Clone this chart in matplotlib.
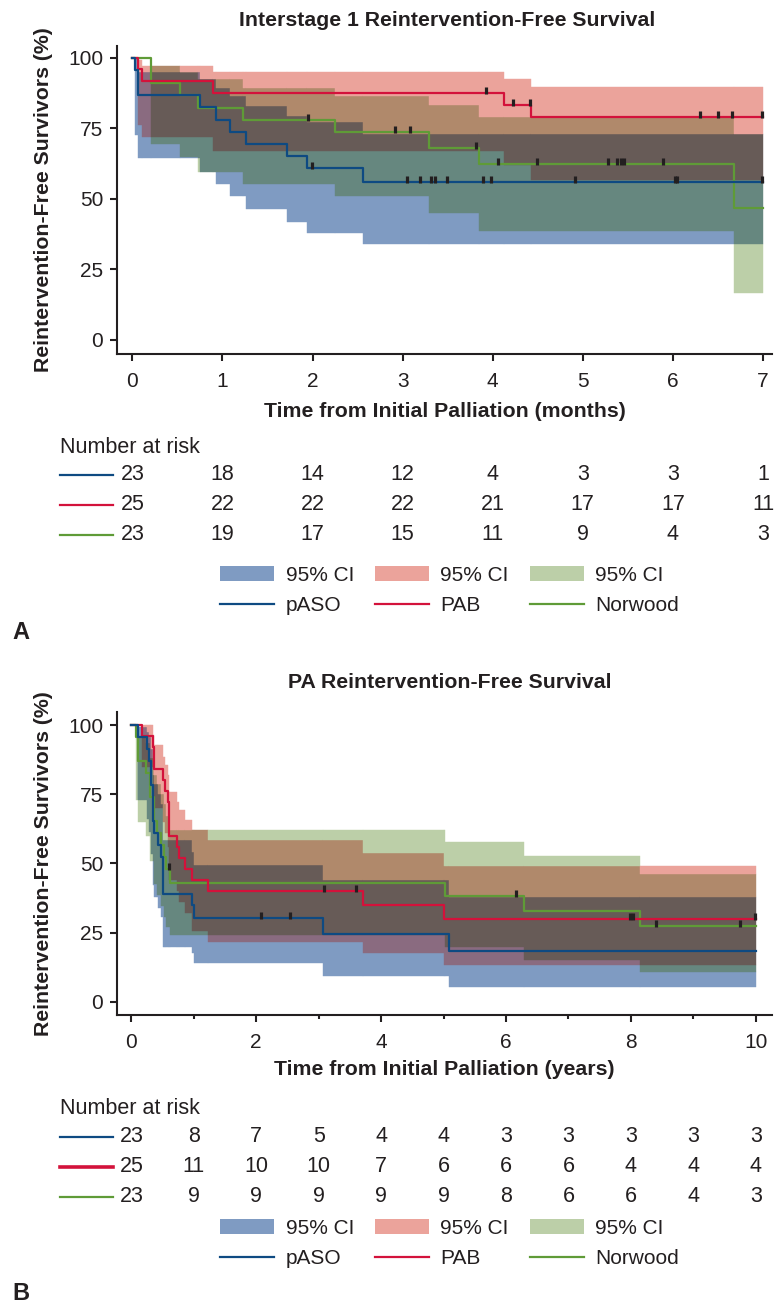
import numpy as np
import matplotlib
matplotlib.use('Agg')
import matplotlib.pyplot as plt
from matplotlib.patches import Rectangle, Patch
from matplotlib.lines import Line2D
from matplotlib.transforms import blended_transform_factory

plt.rcParams['font.family'] = ['Liberation Sans', 'DejaVu Sans']

# ---------------- panel A: interstage 1 (months) ----------------
paso1_t = [0, 0.03, 0.066, 0.756, 0.925, 1.088, 1.265, 1.72, 1.94, 2.56]
paso1_s = [100, 95.7, 86.8, 82.4, 78.0, 73.7, 69.3, 65.0, 60.7, 56.0]
pab1_t = [0, 0.066, 0.103, 0.896, 4.12, 4.43]
pab1_s = [100, 96.0, 91.8, 87.6, 83.1, 79.0]
nor1_t = [0, 0.203, 0.527, 0.73, 1.228, 2.253, 3.29, 3.85, 6.68]
nor1_s = [100, 91.0, 86.7, 82.3, 78.0, 73.7, 68.1, 62.4, 46.8]

paso1_cens = [1.99, 3.05, 3.19, 3.32, 3.36, 3.49, 3.89, 3.98, 4.91, 6.02, 6.05, 6.99]
pab1_cens = [3.93, 4.22, 4.41, 6.30, 6.50, 6.66, 6.99]
nor1_cens = [1.95, 2.92, 3.08, 3.82, 4.06, 4.49, 5.28, 5.38, 5.42, 5.46, 5.89]

paso1_ci_t = [0.03, 0.066, 0.756, 0.925, 1.088, 1.265, 1.72, 1.94, 2.56]
paso1_ci_lo = [72.6, 64.3, 59.6, 55.1, 50.8, 46.3, 41.8, 37.8, 33.9]
paso1_ci_hi = [99.5, 94.8, 92.3, 89.1, 86.5, 83.0, 79.3, 77.1, 73.0]
pab1_ci_t = [0.066, 0.103, 0.896, 4.12, 4.43]
pab1_ci_lo = [76.0, 71.8, 66.8, 62.0, 56.7]
pab1_ci_hi = [99.0, 96.9, 94.9, 92.4, 89.7]
nor1_ci_t = [0.203, 0.527, 0.73, 1.228, 2.253, 3.29, 3.85, 6.68]
nor1_ci_lo = [69.3, 64.9, 59.6, 55.1, 50.8, 44.9, 38.6, 16.5]
nor1_ci_hi = [96.9, 95.0, 92.3, 89.1, 86.5, 83.2, 78.8, 73.0]

risk1_paso = [23, 18, 14, 12, 4, 3, 3, 1]
risk1_pab = [25, 22, 22, 22, 21, 17, 17, 11]
risk1_nor = [23, 19, 17, 15, 11, 9, 4, 3]

# ---------------- panel B: PA reintervention (years) ----------------
paso2_t = [0, 0.10, 0.25, 0.28, 0.31, 0.34, 0.37, 0.43, 0.47, 0.50, 0.965, 1.0, 3.07, 5.09]
paso2_s = [100, 95.7, 91.3, 87.0, 78.3, 65.2, 60.9, 56.5, 52.2, 39.1, 34.8, 30.4, 24.4, 18.3]
pab2_t = [0, 0.175, 0.34, 0.36, 0.50, 0.54, 0.58, 0.61, 0.73, 0.76, 0.86, 0.965, 1.22, 3.71, 5.0]
pab2_s = [100, 96, 92, 84, 80, 76, 72, 60, 56, 52, 48, 44, 40, 35.0, 30.0]
nor2_t = [0, 0.07, 0.11, 0.24, 0.30, 0.36, 0.41, 0.47, 0.52, 0.55, 0.62, 5.03, 6.29, 8.14]
nor2_s = [100, 95.7, 87.0, 82.6, 73.9, 65.2, 60.9, 56.5, 52.2, 47.8, 43.0, 38.2, 32.8, 27.5]

paso2_cens = [2.08, 2.54]
pab2_cens = [3.09, 3.59, 7.98, 8.04, 9.98]
nor2_cens = [0.60, 6.16, 8.41, 9.75]

paso2_ci_t = [0.10, 0.25, 0.28, 0.31, 0.34, 0.37, 0.43, 0.47, 0.50, 0.965, 1.0, 3.07, 5.09]
paso2_ci_lo = [73.0, 66.0, 61.5, 53.5, 42.0, 38.0, 34.0, 30.5, 19.9, 17.7, 14.1, 9.3, 5.4]
paso2_ci_hi = [99.4, 97.5, 95.5, 91.5, 82.0, 78.5, 75.0, 71.5, 58.4, 54.0, 49.4, 44.0, 37.9]
pab2_ci_t = [0.175, 0.34, 0.36, 0.50, 0.54, 0.58, 0.61, 0.73, 0.76, 0.86, 0.965, 1.22, 3.71, 5.0]
pab2_ci_lo = [85.0, 78.0, 70.0, 65.0, 61.0, 56.0, 44.0, 40.0, 36.0, 32.0, 25.5, 21.7, 17.5, 13.3]
pab2_ci_hi = [100, 96.4, 92.8, 88.6, 85.5, 81.9, 75.9, 72.3, 69.3, 65.7, 62.0, 58.4, 53.9, 48.9]
nor2_ci_t = [0.07, 0.11, 0.24, 0.30, 0.36, 0.41, 0.47, 0.52, 0.55, 0.62, 5.03, 6.29, 8.14]
nor2_ci_lo = [73.0, 65.0, 60.0, 51.0, 42.5, 38.5, 34.5, 30.6, 27.0, 24.1, 19.9, 15.1, 10.8]
nor2_ci_hi = [99.0, 96.0, 93.5, 88.0, 82.0, 78.5, 75.0, 71.5, 67.0, 62.0, 57.8, 52.8, 46.3]

risk2_paso = [23, 8, 7, 5, 4, 4, 3, 3, 3, 3, 3]
risk2_pab = [25, 11, 10, 10, 7, 6, 6, 6, 4, 4, 4]
risk2_nor = [23, 9, 9, 9, 9, 9, 8, 6, 6, 4, 3]

# colours
PASO_C = '#0e4a82'
PAB_C = '#d3123b'
NOR_C = '#5f9b37'
INK = '#231f20'
# band colours, overlapping bands look multiplied in the original
BLEND = {
    ('b',): '#7f9bc2', ('r',): '#eba39b', ('g',): '#bccfa8',
    ('b', 'r'): '#8a6b80', ('b', 'g'): '#66877f', ('r', 'g'): '#b0896b',
    ('b', 'r', 'g'): '#675b57',
}
CENSOR = [(0, -0.15), (0, 1)]
LABEL_SIZE = 15.3


def step_value(t, v, x):
    i = np.searchsorted(t, x, side='right') - 1
    return np.asarray(v)[i]


def draw_bands(ax, bands, end):
    xs = sorted(set(np.concatenate([b[1] for b in bands])) | {end})
    for x0, x1 in zip(xs[:-1], xs[1:]):
        spans = {}
        for key, t, lo, hi in bands:
            if x0 >= t[0]:
                spans[key] = (step_value(t, lo, x0), step_value(t, hi, x0))
        cuts = sorted({y for s in spans.values() for y in s})
        for y0, y1 in zip(cuts[:-1], cuts[1:]):
            keys = tuple(k for k in 'brg' if k in spans
                         and spans[k][0] <= y0 and spans[k][1] >= y1)
            if keys:
                c = BLEND[keys]
                ax.add_patch(Rectangle((x0, y0), x1 - x0, y1 - y0, facecolor=c,
                                       edgecolor=c, lw=0.3, zorder=1))


def draw_curve(ax, t, s, cens, end, color, lw=1.6):
    ax.step(np.append(t, end), np.append(s, s[-1]), where='post',
            color=color, lw=lw, zorder=3)
    ax.plot(cens, step_value(t, s, cens), ls='none', marker=CENSOR,
            color=INK, ms=9, mew=2.3, zorder=4)


def style_axes(ax, xlim, ylim):
    ax.set_xlim(*xlim)
    ax.set_ylim(*ylim)
    for side in ['top', 'right']:
        ax.spines[side].set_visible(False)
    for side in ['left', 'bottom']:
        ax.spines[side].set_linewidth(1.5)
        ax.spines[side].set_color(INK)
    ax.set_yticks([0, 25, 50, 75, 100])
    ax.tick_params(which='major', length=5, width=1.5, color=INK,
                   labelsize=15, labelcolor=INK)
    ax.tick_params(axis='x', which='major', pad=8)
    ax.tick_params(axis='y', pad=5)
    ax.set_ylabel('Reintervention-Free Survivors (%)', fontsize=LABEL_SIZE,
                  fontweight='bold', color=INK)
    ax.yaxis.set_label_coords(-0.098, 0.5)


def risk_table(fig, ax, y_head, rows, xs):
    tr = blended_transform_factory(ax.transData, fig.transFigure)
    fig.text(60 / 774, 1 - y_head / 1306, 'Number at risk', fontsize=15.5,
             color=INK, ha='left', va='center')
    for y_px, vals, color, lw in rows:
        y = 1 - y_px / 1306
        fig.add_artist(Line2D([60 / 774, 113 / 774], [y, y], color=color, lw=lw,
                              transform=fig.transFigure))
        for x, v in zip(xs, vals):
            fig.text(x, y, str(v), transform=tr, fontsize=15.5, color=INK,
                     ha='center', va='center')


def legend(fig, y_px):
    handles = [Patch(facecolor=BLEND[('b',)]), Line2D([], [], color=PASO_C, lw=1.6),
               Patch(facecolor=BLEND[('r',)]), Line2D([], [], color=PAB_C, lw=1.6),
               Patch(facecolor=BLEND[('g',)]), Line2D([], [], color=NOR_C, lw=1.6)]
    labels = ['95% CI', 'pASO', '95% CI', 'PAB', '95% CI', 'Norwood']
    leg = fig.legend(handles, labels, ncol=3, loc='center left',
                     bbox_to_anchor=(220 / 774, 1 - y_px / 1306), frameon=False,
                     fontsize=15, handlelength=2.6, handletextpad=0.55,
                     columnspacing=1.0, labelspacing=0.55, borderpad=0,
                     borderaxespad=0)
    for txt in leg.get_texts():
        txt.set_color(INK)


fig = plt.figure(figsize=(7.74, 13.06), dpi=100)

# ---- panel A ----
ax1 = fig.add_axes([117 / 774, 1 - 354 / 1306, 655 / 774, 308 / 1306])
draw_bands(ax1, [('b', paso1_ci_t, paso1_ci_lo, paso1_ci_hi),
                 ('r', pab1_ci_t, pab1_ci_lo, pab1_ci_hi),
                 ('g', nor1_ci_t, nor1_ci_lo, nor1_ci_hi)], 7.0)
draw_curve(ax1, nor1_t, nor1_s, nor1_cens, 7.0, NOR_C)
draw_curve(ax1, pab1_t, pab1_s, pab1_cens, 7.0, PAB_C)
draw_curve(ax1, paso1_t, paso1_s, paso1_cens, 7.0, PASO_C)
style_axes(ax1, (-0.17, 7.1), (-5.07, 104.1))
ax1.set_xticks(range(8))
ax1.set_xlabel('Time from Initial Palliation (months)', fontsize=LABEL_SIZE,
               fontweight='bold', color=INK, labelpad=8)
fig.text(447 / 774, 1 - 20 / 1306, 'Interstage 1 Reintervention-Free Survival',
         fontsize=LABEL_SIZE, fontweight='bold', color=INK, ha='center', va='center')
risk_table(fig, ax1, 448, [(475, risk1_paso, PASO_C, 1.6),
                           (505, risk1_pab, PAB_C, 1.6),
                           (535, risk1_nor, NOR_C, 1.6)], range(8))
legend(fig, 590.5)
fig.text(12 / 774, 1 - 633 / 1306, 'A', fontsize=17, fontweight='bold',
         color=INK, ha='left', va='center')

# ---- panel B ----
ax2 = fig.add_axes([117 / 774, 1 - 1015 / 1306, 655 / 774, 303 / 1306])
draw_bands(ax2, [('b', paso2_ci_t, paso2_ci_lo, paso2_ci_hi),
                 ('r', pab2_ci_t, pab2_ci_lo, pab2_ci_hi),
                 ('g', nor2_ci_t, nor2_ci_lo, nor2_ci_hi)], 10.0)
draw_curve(ax2, nor2_t, nor2_s, nor2_cens, 10.0, NOR_C)
draw_curve(ax2, pab2_t, pab2_s, pab2_cens, 10.0, PAB_C)
draw_curve(ax2, paso2_t, paso2_s, paso2_cens, 10.0, PASO_C)
style_axes(ax2, (-0.23, 10.26), (-4.8, 104.7))
ax2.set_xticks(range(0, 11, 2))
ax2.set_xticks(range(1, 11, 2), minor=True)
ax2.tick_params(axis='x', which='minor', length=3, width=1.5, color=INK)
ax2.set_xlabel('Time from Initial Palliation (years)', fontsize=LABEL_SIZE,
               fontweight='bold', color=INK, labelpad=6)
fig.text(450 / 774, 1 - 683 / 1306, 'PA Reintervention-Free Survival',
         fontsize=LABEL_SIZE, fontweight='bold', color=INK, ha='center', va='center')
risk_table(fig, ax2, 1109, [(1137, risk2_paso, PASO_C, 1.6),
                            (1167, risk2_pab, PAB_C, 2.6),
                            (1197, risk2_nor, NOR_C, 1.6)], range(11))
legend(fig, 1243.5)
fig.text(12 / 774, 1 - 1293 / 1306, 'B', fontsize=17, fontweight='bold',
         color=INK, ha='left', va='center')

fig.savefig('out.png', dpi=100)
